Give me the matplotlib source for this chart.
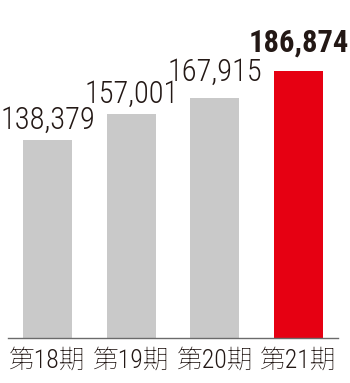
import matplotlib

matplotlib.use("Agg")

import matplotlib.pyplot as plt

PERIODS = ["第18期", "第19期", "第20期", "第21期"]
VALUES = [138379, 157001, 167915, 186874]

GRAY = "#c9c9c9"
RED = "#e60012"
TEXT = "#231815"
NUM_FONT = ["Roboto Condensed", "DejaVu Sans"]
CAT_FONT = ["Roboto Condensed", "Noto Sans JP", "Noto Sans CJK JP", "DejaVu Sans"]

fig = plt.figure(figsize=(3.5, 3.83), dpi=100)
ax = fig.add_axes([8 / 350, 45 / 383, 330 / 350, 338 / 383])

colors = [GRAY, GRAY, GRAY, RED]
positions = range(len(VALUES))
ax.bar(positions, VALUES, width=0.585, color=colors, zorder=2)

# gap between label and bar top (points), as in the original artwork
gaps = [7.9, 7.9, 12.2, 13.7]
for i, (value, gap) in enumerate(zip(VALUES, gaps)):
    last = i == len(VALUES) - 1
    ax.annotate(
        f"{value:,}",
        xy=(i, value),
        xytext=(0, gap),
        textcoords="offset points",
        ha="center",
        va="baseline",
        fontsize=22,
        family=NUM_FONT,
        fontweight="bold" if last else "light",
        color=TEXT,
        annotation_clip=False,
    )

ax.set_xlim(-0.472, 3.47)
ax.set_ylim(0, 236566)
ax.set_xticks(list(positions))
ax.set_xticklabels(PERIODS, family=CAT_FONT, fontsize=18.5, fontweight="light", color=TEXT)
ax.tick_params(axis="x", length=0, pad=8)
ax.set_yticks([])
for side in ("top", "left", "right"):
    ax.spines[side].set_visible(False)
ax.spines["bottom"].set_color("#6b6b6b")
ax.spines["bottom"].set_linewidth(1.0)
ax.patch.set_alpha(0)

fig.savefig("out.png", dpi=100)
